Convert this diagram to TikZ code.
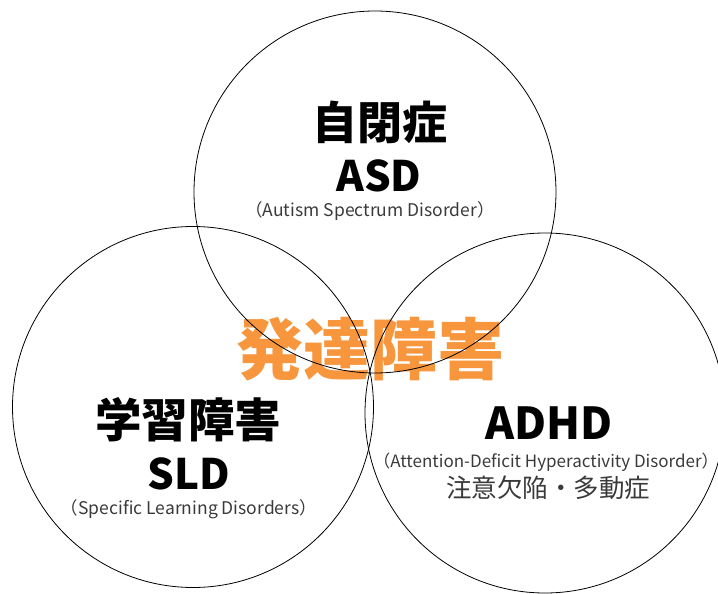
\documentclass[tikz,border=0pt]{standalone}
\usepackage{fontspec}
\setmainfont{Noto Sans CJK JP}
\usetikzlibrary{positioning}
\definecolor{hattatsuorange}{HTML}{F7963C}
\definecolor{textgris}{HTML}{3A3A3A}

\begin{document}
\begin{tikzpicture}[x=1pt, y=-1pt, every node/.style={inner sep=0pt}]

  \useasboundingbox (0,0) rectangle (718,594);
  \clip (0,0) rectangle (718,594);

  % Titre central
  \node[font=\fontsize{67}{67}\selectfont\bfseries, hattatsuorange] (titre) at (370,349) {発達障害};

  % Cercles
  \node[draw, circle, minimum size=362pt, line width=0.8pt] (asd) at (375,192) {};
  \node[draw, circle, minimum size=361pt, line width=0.8pt] (sld) at (193,407) {};
  \node[draw, circle, minimum size=360pt, line width=0.8pt] (adhd) at (545,413) {};

  % Autisme
  \node[font=\fontsize{45}{45}\selectfont\bfseries] (asdjp) at (380,122) {自閉症};
  \node[font=\fontsize{42}{42}\selectfont\bfseries] (asden) at (379,176) {ASD};
  \node[font=\fontsize{17.5}{17.5}\selectfont, textgris] (asdlong) at (370,211) {（Autism Spectrum Disorder）};

  % Troubles d'apprentissage
  \node[font=\fontsize{46.5}{46.5}\selectfont\bfseries] (sldjp) at (188,420) {学習障害};
  \node[font=\fontsize{42}{42}\selectfont\bfseries] (slden) at (189,474) {SLD};
  \node[font=\fontsize{17.5}{17.5}\selectfont, textgris] (sldlong) at (189,509) {（Specific Learning Disorders）};

  % TDAH
  \node[font=\fontsize{44}{44}\selectfont\bfseries] (adhden) at (549,423) {ADHD};
  \node[font=\fontsize{17}{17}\selectfont, textgris] (adhdlong) at (546,462) {（Attention-Deficit Hyperactivity Disorder）};
  \node[font=\fontsize{25.5}{25.5}\selectfont, textgris] (adhdjp) at (548,488) {注意欠陥・多動症};

\end{tikzpicture}
\end{document}
